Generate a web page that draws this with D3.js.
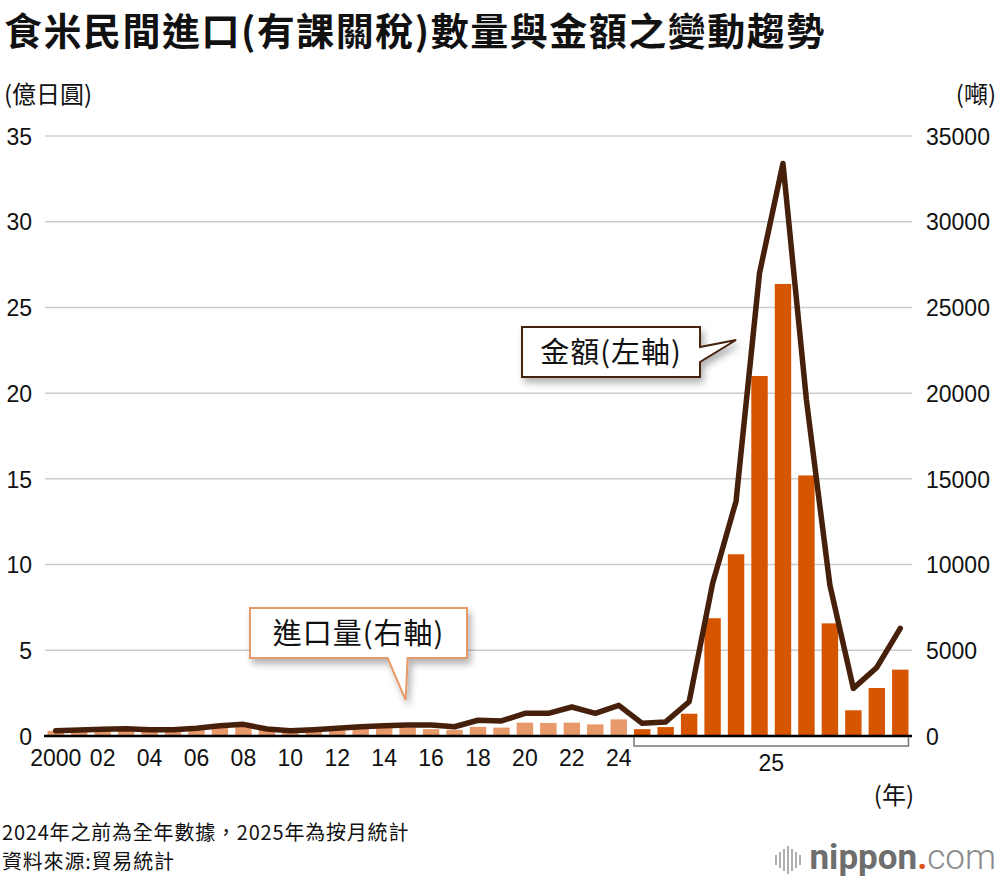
<!DOCTYPE html>
<html>
<head>
<meta charset="utf-8">
<script src="https://cdn.jsdelivr.net/npm/d3@7"></script>
<style>
  body { margin: 0; background: #fff; }
  text { font-family: "Liberation Sans", Arial, sans-serif; }
  .cjk { font-family: "Noto Sans CJK TC", "Noto Sans CJK JP", sans-serif; }
</style>
</head>
<body>
<div id="chart"></div>
<script>
// annual figures 2000-2024, monthly figures 2025
var years = ["2000","2001","2002","2003","2004","2005","2006","2007","2008","2009",
             "2010","2011","2012","2013","2014","2015","2016","2017","2018","2019",
             "2020","2021","2022","2023","2024"];
var months = ["2025-01","2025-02","2025-03","2025-04","2025-05","2025-06",
              "2025-07","2025-08","2025-09","2025-10","2025-11","2025-12"];

// import volume (tons, right axis)
var annualTons = [300, 290, 320, 350, 320, 310, 340, 470, 560, 370,
                  290, 330, 330, 420, 480, 490, 400, 360, 530, 490,
                  780, 760, 780, 680, 970];
var monthlyTons = [400, 520, 1300, 6870, 10600, 21000, 26370, 15200, 6570, 1500, 2800, 3870];

// import value (100 million yen, left axis)
var annualValue = [0.31, 0.35, 0.39, 0.43, 0.37, 0.37, 0.45, 0.60, 0.68, 0.41,
                   0.31, 0.37, 0.45, 0.54, 0.60, 0.64, 0.64, 0.54, 0.92, 0.88,
                   1.32, 1.32, 1.69, 1.32, 1.79];
var monthlyValue = [0.74, 0.82, 2.0, 8.9, 13.7, 27.0, 33.4, 19.6, 8.8, 2.78, 4.0, 6.28];

var xTickLabels = ["2000","02","04","06","08","10","12","14","16","18","20","22","24"];
var leftTicks = [0, 5, 10, 15, 20, 25, 30, 35];
var rightTicks = [0, 5000, 10000, 15000, 20000, 25000, 30000, 35000];

function init() {
    var w = 1000, h = 882;
    var plot = { left: 44, right: 912, top: 136, bottom: 736 };

    var cats = years.concat(months);
    var data = cats.map(function(c, i) {
        var annual = i < years.length;
        return {
            key: c,
            annual: annual,
            tons: annual ? annualTons[i] : monthlyTons[i - years.length],
            value: annual ? annualValue[i] : monthlyValue[i - years.length]
        };
    });

    var svg = d3.select("#chart").append("svg")
        .attr("width", w).attr("height", h)
        .style("background", "#fff");

    var defs = svg.append("defs");
    var f = defs.append("filter").attr("id", "shadow")
        .attr("x", "-20%").attr("y", "-20%").attr("width", "150%").attr("height", "170%");
    f.append("feDropShadow").attr("dx", 3).attr("dy", 5).attr("stdDeviation", 3.5)
        .attr("flood-color", "#000").attr("flood-opacity", 0.3);

    var xScale = d3.scaleBand().domain(cats)
        .range([plot.left, plot.right]).paddingInner(0.3).paddingOuter(0.15);
    var yLeft = d3.scaleLinear().domain([0, 35]).range([plot.bottom, plot.top]);
    var yRight = d3.scaleLinear().domain([0, 35000]).range([plot.bottom, plot.top]);
    var cx = function(k) { return xScale(k) + xScale.bandwidth() / 2; };

    // title
    svg.append("text").attr("class", "cjk")
        .attr("x", 4).attr("y", 45)
        .style("font-size", "38px").style("font-weight", "bold")
        .style("letter-spacing", "1.5px").attr("fill", "#111")
        .text("食米民間進口(有課關稅)數量與金額之變動趨勢");

    svg.append("text").attr("class", "cjk").attr("x", 4).attr("y", 103)
        .style("font-size", "24px").attr("fill", "#111").text("(億日圓)");
    svg.append("text").attr("class", "cjk").attr("x", 996).attr("y", 103)
        .attr("text-anchor", "end")
        .style("font-size", "24px").attr("fill", "#111").text("(噸)");

    // gridlines
    svg.append("g").selectAll("line")
        .data(leftTicks.slice(1)).enter().append("line")
        .attr("x1", plot.left + 1).attr("x2", plot.right)
        .attr("y1", function(d) { return yLeft(d); })
        .attr("y2", function(d) { return yLeft(d); })
        .attr("stroke", "#cccccc").attr("stroke-width", 1.5);

    // axes
    var yAxisL = d3.axisLeft(yLeft).tickValues(leftTicks).tickSize(0).tickPadding(12);
    var gl = svg.append("g").attr("transform", "translate(" + plot.left + ",0)").call(yAxisL);
    gl.select(".domain").remove();
    gl.selectAll("text").style("font-size", "23px").attr("fill", "#111")
        .attr("font-family", "Liberation Sans, Arial, sans-serif").attr("dy", "0.36em");

    var yAxisR = d3.axisRight(yRight).tickValues(rightTicks).tickSize(0).tickPadding(14)
        .tickFormat(d3.format("d"));
    var gr = svg.append("g").attr("transform", "translate(" + plot.right + ",0)").call(yAxisR);
    gr.select(".domain").remove();
    gr.selectAll("text").style("font-size", "23px").attr("fill", "#111")
        .attr("font-family", "Liberation Sans, Arial, sans-serif").attr("dy", "0.36em");

    // bars
    svg.append("g").selectAll("rect")
        .data(data).enter().append("rect")
        .attr("x", function(d) { return xScale(d.key); })
        .attr("width", xScale.bandwidth())
        .attr("y", function(d) { return yRight(d.tons); })
        .attr("height", function(d) { return plot.bottom - yRight(d.tons); })
        .attr("fill", function(d) { return d.annual ? "#e8996a" : "#d65500"; });

    // x axis line
    svg.append("line")
        .attr("x1", plot.left).attr("x2", plot.right)
        .attr("y1", plot.bottom).attr("y2", plot.bottom)
        .attr("stroke", "#000").attr("stroke-width", 2.5);

    // bracket under 2025 months
    var bx0 = xScale(months[0]);
    var bx1 = xScale(months[months.length - 1]) + xScale.bandwidth();
    svg.append("path")
        .attr("d", "M" + bx0 + "," + (plot.bottom + 1) + "V" + (plot.bottom + 10) +
                   "H" + bx1 + "V" + (plot.bottom + 1))
        .attr("fill", "none").attr("stroke", "#777").attr("stroke-width", 1.5);

    // x tick labels
    var tickYears = years.filter(function(d, i) { return i % 2 === 0; });
    var xAxis = d3.axisBottom(xScale).tickValues(tickYears)
        .tickFormat(function(d, i) { return xTickLabels[i]; })
        .tickSize(0).tickPadding(14);
    var gx = svg.append("g").attr("transform", "translate(0," + plot.bottom + ")").call(xAxis);
    gx.select(".domain").remove();
    gx.selectAll("text").style("font-size", "23px").attr("fill", "#111")
        .attr("font-family", "Liberation Sans, Arial, sans-serif");

    svg.append("text")
        .attr("x", (cx(months[0]) + cx(months[months.length - 1])) / 2)
        .attr("y", 771).attr("text-anchor", "middle")
        .style("font-size", "23px").attr("fill", "#111").text("25");

    svg.append("text").attr("class", "cjk").attr("x", 914).attr("y", 804)
        .attr("text-anchor", "end")
        .style("font-size", "24px").attr("fill", "#111").text("(年)");

    // value line
    var line = d3.line()
        .x(function(d) { return cx(d.key); })
        .y(function(d) { return yLeft(d.value); });
    svg.append("path").datum(data)
        .attr("d", line)
        .attr("fill", "none")
        .attr("stroke", "#46200a")
        .attr("stroke-width", 5.5)
        .attr("stroke-linejoin", "round")
        .attr("stroke-linecap", "round");

    // callout: volume
    var t1x = cx("2015") - 2, t1y = 700;
    var c1 = { x0: 250, x1: 467, y0: 608, y1: 658 };
    svg.append("path")
        .attr("d", "M" + c1.x0 + "," + c1.y0 + "H" + c1.x1 + "V" + c1.y1 +
                   "H" + (t1x + 2) + "L" + t1x + "," + t1y + "L" + (t1x - 18) + "," + c1.y1 +
                   "H" + c1.x0 + "Z")
        .attr("fill", "#fff").attr("stroke", "#e8996a").attr("stroke-width", 2)
        .attr("filter", "url(#shadow)");
    svg.append("text").attr("class", "cjk")
        .attr("x", (c1.x0 + c1.x1) / 2).attr("y", 644).attr("text-anchor", "middle")
        .style("font-size", "29px").style("letter-spacing", "1px").attr("fill", "#111")
        .text("進口量(右軸)");

    // callout: value
    var t2x = cx("2025-05"), t2y = 340;
    var c2 = { x0: 522, x1: 700, y0: 327, y1: 377 };
    svg.append("path")
        .attr("d", "M" + c2.x0 + "," + c2.y0 + "H" + c2.x1 + "V" + 347 +
                   "L" + t2x + "," + t2y + "L" + c2.x1 + "," + 362 +
                   "V" + c2.y1 + "H" + c2.x0 + "Z")
        .attr("fill", "#fff").attr("stroke", "#46200a").attr("stroke-width", 2)
        .attr("filter", "url(#shadow)");
    svg.append("text").attr("class", "cjk")
        .attr("x", (c2.x0 + c2.x1) / 2).attr("y", 363).attr("text-anchor", "middle")
        .style("font-size", "29px").style("letter-spacing", "1px").attr("fill", "#111")
        .text("金額(左軸)");

    // notes
    svg.append("text").attr("class", "cjk").attr("x", 2).attr("y", 840)
        .style("font-size", "20px").style("letter-spacing", "0.8px").attr("fill", "#111")
        .text("2024年之前為全年數據，2025年為按月統計");
    svg.append("text").attr("class", "cjk").attr("x", 2).attr("y", 869)
        .style("font-size", "20px").style("letter-spacing", "0.8px").attr("fill", "#111")
        .text("資料來源:貿易統計");

    // logo
    var logo = svg.append("g");
    var barsH = [10, 16, 22, 28, 22, 16, 10];
    barsH.forEach(function(bh, i) {
        logo.append("line")
            .attr("x1", 776 + i * 4).attr("x2", 776 + i * 4)
            .attr("y1", 860 - bh / 2).attr("y2", 860 + bh / 2)
            .attr("stroke", "#9a9a9a").attr("stroke-width", 1.6);
    });
    var lt = logo.append("text").attr("x", 996).attr("y", 869)
        .attr("text-anchor", "end")
        .style("font-family", "Roboto, 'Liberation Sans', sans-serif")
        .style("font-size", "35px");
    lt.append("tspan").attr("fill", "#6e6e6e").style("font-weight", "bold").text("nippon");
    lt.append("tspan").attr("fill", "#e0531b").style("font-weight", "bold").text(".");
    lt.append("tspan").attr("fill", "#8a8a8a").style("font-weight", "300").text("com");
}

window.onload = init;
</script>
</body>
</html>
